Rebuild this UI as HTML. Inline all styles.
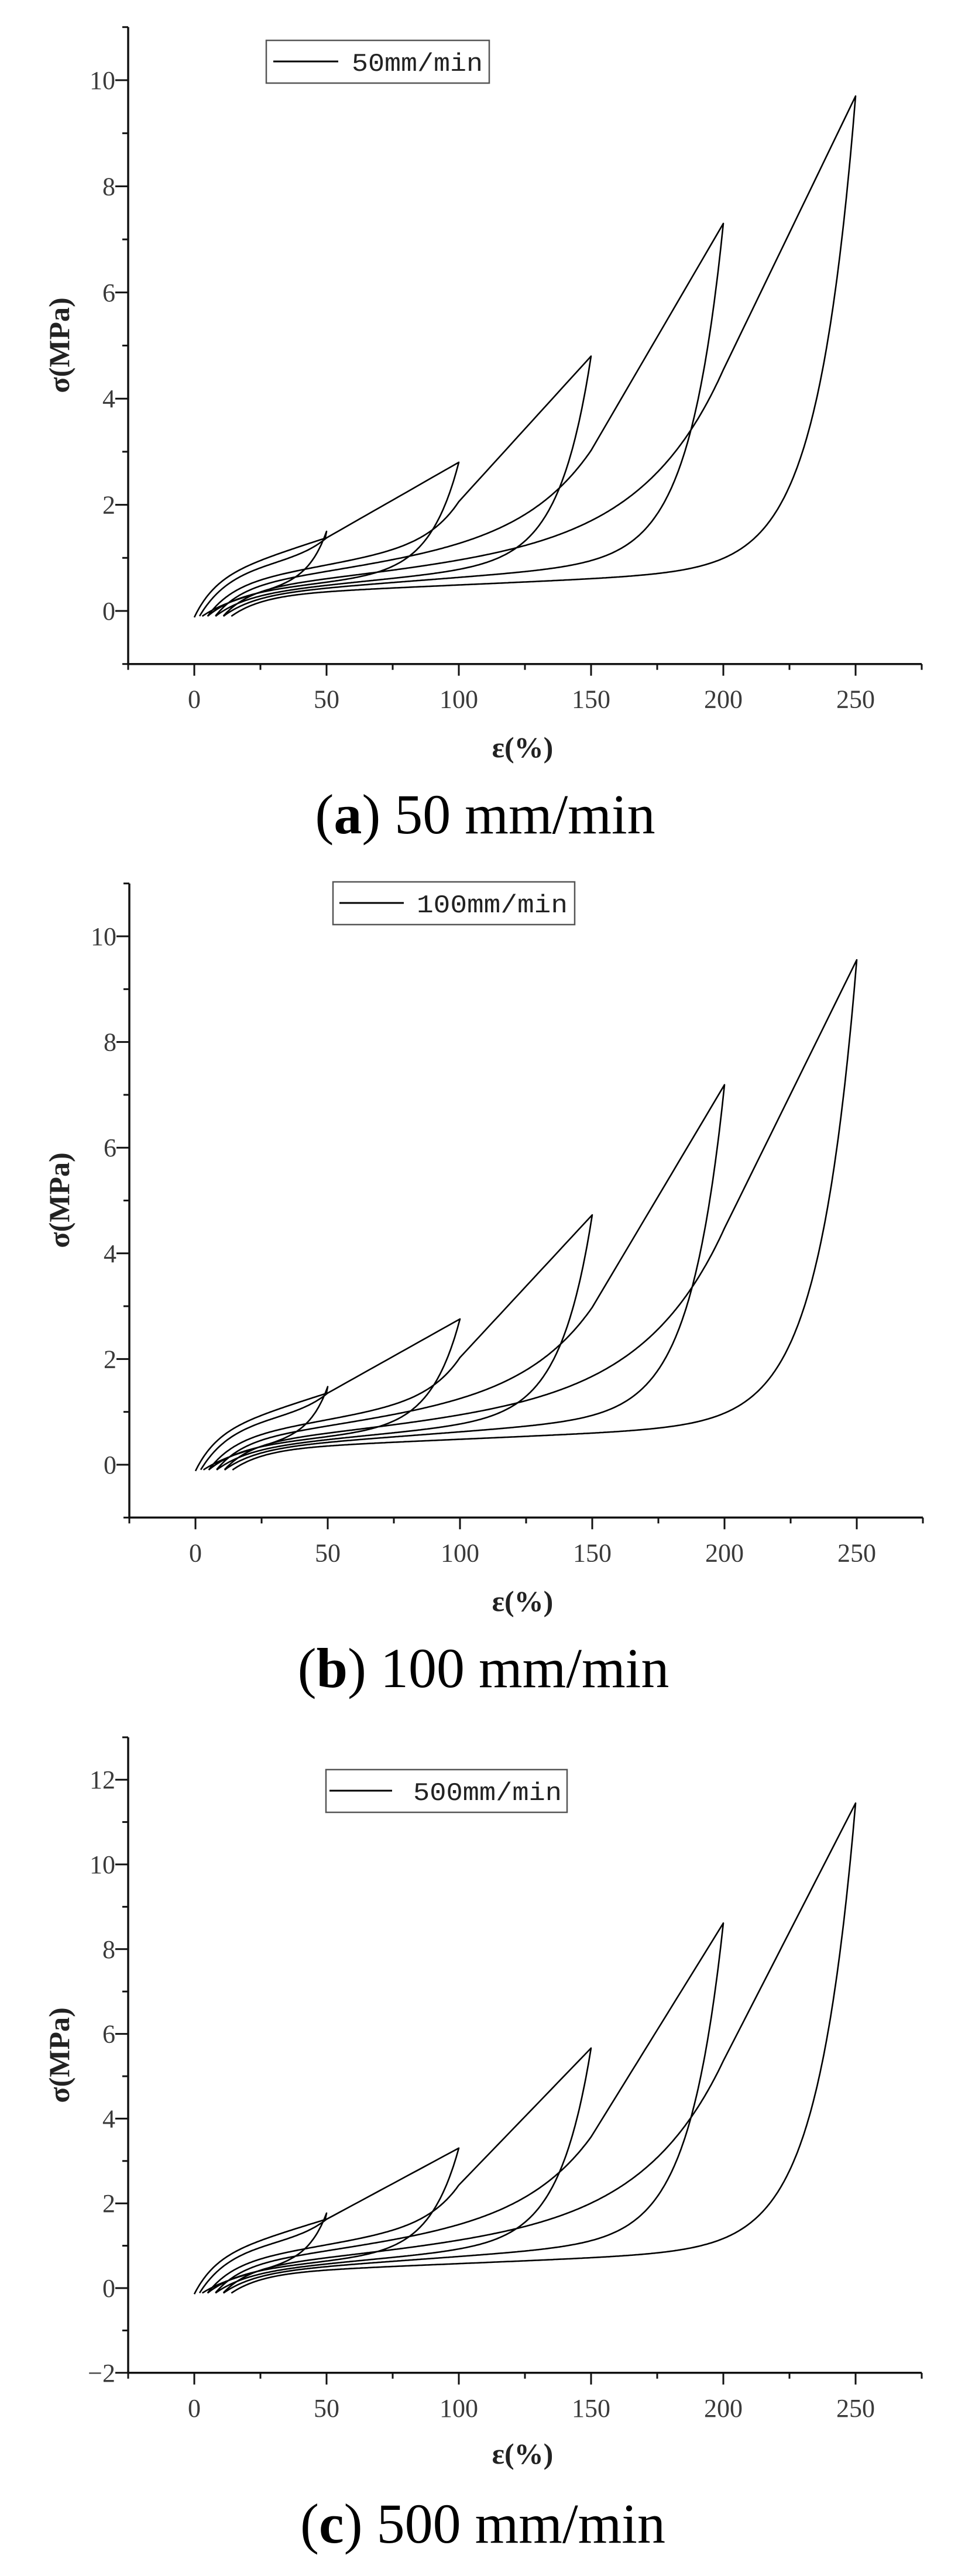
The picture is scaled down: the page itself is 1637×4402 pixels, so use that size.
<!DOCTYPE html>
<html><head><meta charset="utf-8">
<style>
html,body{margin:0;padding:0;background:#fff;}
svg{display:block;}
.tk{font-family:"Liberation Serif",serif;font-size:44px;fill:#3a3a3a;}
.ax{font-family:"Liberation Serif",serif;font-size:50px;fill:#222;font-weight:bold;}
.lg{font-family:"Liberation Mono",monospace;font-size:44px;fill:#222;}
.cap{font-family:"Liberation Serif",serif;font-size:96px;fill:#000;}
</style></head>
<body>
<svg id="s" width="1637" height="4402" viewBox="0 0 1637 4402" xmlns="http://www.w3.org/2000/svg">
<rect width="1637" height="4402" fill="#fff"/>
<g id="g"></g>
<text class="ax" x="893" y="1294" text-anchor="middle">ε(%)</text>
<text class="ax" transform="translate(118,590) rotate(-90)" text-anchor="middle">σ(MPa)</text>
<rect x="455" y="69" width="381" height="73" fill="#fff" stroke="#555" stroke-width="2.5"/>
<line x1="467" y1="105" x2="578" y2="105" stroke="#000" stroke-width="3"/>
<text class="lg" x="601" y="121" textLength="224" lengthAdjust="spacingAndGlyphs">50mm/min</text>
<text class="cap" x="829" y="1424" text-anchor="middle">(<tspan font-weight="bold">a</tspan>) 50 mm/min</text>
<text class="ax" x="893" y="2753" text-anchor="middle">ε(%)</text>
<text class="ax" transform="translate(118,2051) rotate(-90)" text-anchor="middle">σ(MPa)</text>
<rect x="569" y="1507" width="413" height="73" fill="#fff" stroke="#555" stroke-width="2.5"/>
<line x1="580" y1="1543" x2="690" y2="1543" stroke="#000" stroke-width="3"/>
<text class="lg" x="712" y="1559" textLength="258" lengthAdjust="spacingAndGlyphs">100mm/min</text>
<text class="cap" x="826" y="2883" text-anchor="middle">(<tspan font-weight="bold">b</tspan>) 100 mm/min</text>
<text class="ax" x="893" y="4210" text-anchor="middle">ε(%)</text>
<text class="ax" transform="translate(118,3512) rotate(-90)" text-anchor="middle">σ(MPa)</text>
<rect x="557" y="3024" width="412" height="73" fill="#fff" stroke="#555" stroke-width="2.5"/>
<line x1="563" y1="3060" x2="670" y2="3060" stroke="#000" stroke-width="3"/>
<text class="lg" x="706" y="3076" textLength="254" lengthAdjust="spacingAndGlyphs">500mm/min</text>
<text class="cap" x="825" y="4345" text-anchor="middle">(<tspan font-weight="bold">c</tspan>) 500 mm/min</text>
</svg>
<script>
(function(){
var NS="http://www.w3.org/2000/svg";
var g=document.getElementById("g");
function el(n,a,t){var e=document.createElementNS(NS,n);for(var k in a)e.setAttribute(k,a[k]);if(t!==undefined)e.textContent=t;g.appendChild(e);return e;}
var panels=[
 {x0:332,y0:1044,ky:90.7,smin:-1,smax:11,f:1.0},
 {x0:334,y0:2503,ky:90.3,smin:-1,smax:11,f:0.985},
 {x0:332,y0:3910,ky:72.4,smin:-2,smax:13,f:1.18}
];
var kx=4.52;
var cyc=[
 {E:50,P:1.5,s:0,M:0,a:0.7,tau:8,m:0.016,D:0,w:10,ua:0.3,um:0.008,uw:7,us:3},
 {E:100,P:2.8,s:2,M:50,a:0.85,tau:11,m:0.006,D:0.35,w:10,ua:0.45,um:0.004,uw:11,us:5},
 {E:150,P:4.8,s:5,M:100,a:0.6,tau:10,m:0.008,D:0.8,w:12,ua:0.4,um:0.0046,uw:12,us:8},
 {E:200,P:7.3,s:8,M:150,a:0.55,tau:10,m:0.0065,D:1.65,w:25,ua:0.4,um:0.0037,uw:13,us:11},
 {E:250,P:9.7,s:11,M:200,a:0.5,tau:10,m:0.005,D:3.2,w:30,ua:0.4,um:0.0022,uw:14.5,us:14}
];
panels.forEach(function(p){
 var X=function(e){return p.x0+kx*e;}, Y=function(s){return p.y0-p.ky*s;};
 var xl=X(-25), xr=X(275), yb=Y(p.smin), yt=Y(p.smax);
 el("line",{x1:xl,y1:yt,x2:xl,y2:yb+1.5,stroke:"#111","stroke-width":3.5});
 el("line",{x1:xl-1.5,y1:yb,x2:xr,y2:yb,stroke:"#111","stroke-width":3.5});
 for(var e=-25;e<=275;e+=25){var maj=(e%50===0);el("line",{x1:X(e),y1:yb,x2:X(e),y2:yb+(maj?20:10),stroke:"#111","stroke-width":3});
  if(maj&&e>=0&&e<=250)el("text",{"class":"tk",x:X(e),y:yb+75,"text-anchor":"middle"},String(e));}
 for(var s=p.smin;s<=p.smax;s+=1){var maj=(s%2===0);
  el("line",{x1:xl,y1:Y(s),x2:xl-(maj?22:10),y2:Y(s),stroke:"#111","stroke-width":3});
  if(maj)el("text",{"class":"tk",x:xl-22,y:Y(s)+15,"text-anchor":"end"},s<0?"\u2212"+(-s):String(s));}
 var d="";
 cyc.forEach(function(c){
  var P=c.P*p.f, pts=[], base=-0.1, Mv;
  if(c.M===0){
   for(var e=c.s;e<=c.E;e+=0.5){pts.push([e,(-0.12+c.a*(1-Math.exp(-(e-c.s)/c.tau))+c.m*(e-c.s))*p.f]);}
   pts[pts.length-1][1]=P;
  }else{
   for(var e=c.s;e<=c.M;e+=0.5){var v=base+c.a*(1-Math.exp(-(e-c.s)/c.tau))+c.m*(e-c.s)+c.D*Math.exp(-(c.M-e)/c.w);pts.push([e,v*p.f]);Mv=v*p.f;}
   var n=20;for(var k=1;k<=n;k++){var t=k/n;pts.push([c.M+(c.E-c.M)*t,Mv+(P-Mv)*t]);}
  }
  var Bend=base+c.ua*(1-Math.exp(-(c.E-c.us)/12))+c.um*(c.E-c.us);
  var Du=c.P-Bend;
  for(var e=c.E;e>=c.us;e-=0.5){var v=base+c.ua*(1-Math.exp(-(e-c.us)/12))+c.um*(e-c.us)+Du*Math.exp(-(c.E-e)/c.uw);pts.push([e,v*p.f]);}
  pts.forEach(function(q,j){d+=(j===0?"M":"L")+X(q[0]).toFixed(1)+" "+Y(q[1]).toFixed(1);});
 });
 el("path",{d:d,fill:"none",stroke:"#000","stroke-width":2.6,"stroke-linejoin":"round"});
});
})();
</script>
</body></html>
